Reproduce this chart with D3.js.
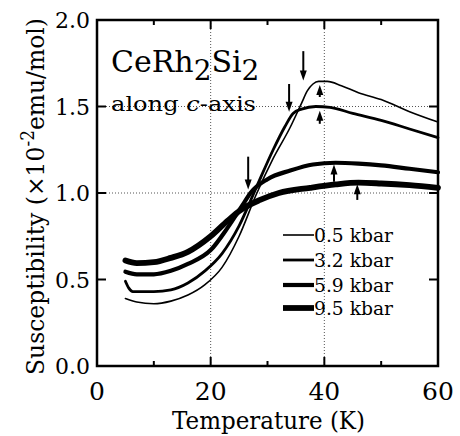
<!DOCTYPE html>
<html>
<head>
<meta charset="utf-8">
<script src="https://cdn.jsdelivr.net/npm/d3@7"></script>
<style>
  body { margin: 0; background: #fff; }
</style>
</head>
<body>
<script>
// pressures (legend)
const pressures = ["0.5 kbar", "3.2 kbar", "5.9 kbar", "9.5 kbar"];

// temperature (K) / susceptibility (1e-2 emu/mol)
const T05 = [5, 7, 10, 13, 16, 19, 22, 25, 28, 31, 34, 36, 37, 38, 39, 40.5, 43, 46, 50, 55, 60];
const X05 = [0.39, 0.37, 0.36, 0.375, 0.41, 0.47, 0.57, 0.75, 0.99, 1.2, 1.38, 1.52, 1.59, 1.63, 1.645, 1.645, 1.62, 1.58, 1.54, 1.47, 1.41];

const T32 = [5, 5.6, 6.3, 10, 13, 16, 19, 22, 25, 28, 31, 33, 34.5, 36, 38.5, 41, 45, 50, 55, 60];
const X32 = [0.49, 0.45, 0.43, 0.43, 0.44, 0.48, 0.55, 0.65, 0.81, 1.03, 1.25, 1.38, 1.46, 1.485, 1.5, 1.495, 1.46, 1.42, 1.37, 1.32];

const T59 = [5, 7, 10, 13, 16, 20, 23, 26, 27, 30, 34, 38, 42, 46, 50, 55, 60];
const X59 = [0.545, 0.53, 0.53, 0.55, 0.59, 0.67, 0.8, 0.95, 1.0, 1.08, 1.13, 1.165, 1.175, 1.17, 1.16, 1.14, 1.12];

const T95 = [5, 7, 10, 13, 16, 20, 23, 25.2, 28.7, 32, 37.5, 42, 46, 50, 55, 60];
const X95 = [0.61, 0.595, 0.6, 0.625, 0.66, 0.75, 0.84, 0.9, 0.96, 1.0, 1.03, 1.05, 1.06, 1.055, 1.045, 1.03];

// down arrows (transition) and up arrows (maximum): [T, chi from, chi to]
const downArrows = [[36.3, 1.82, 1.65], [33.8, 1.63, 1.47], [26.6, 1.21, 1.02]];
const upArrows = [[39.2, 1.555, 1.625], [39.2, 1.40, 1.475], [41.7, 1.065, 1.165], [45.8, 0.96, 1.05]];

const xTicks = [0, 20, 40, 60];
const xMinor = [10, 30, 50];
const yTicks = [0, 0.5, 1.0, 1.5, 2.0];

const series = [
  { T: T05, X: X05, w: 1.6 },
  { T: T32, X: X32, w: 2.8 },
  { T: T59, X: X59, w: 4.2 },
  { T: T95, X: X95, w: 5.8 }
];

const W = 460, H = 436;
const svg = d3.select("body").append("svg").attr("width", W).attr("height", H)
  .attr("font-family", "'DejaVu Serif', serif");

const x = d3.scaleLinear().domain([0, 60]).range([97, 438]);
const y = d3.scaleLinear().domain([0, 2]).range([366, 20]);

// dotted grid
svg.append("g").selectAll("line.gv").data([20, 40]).enter().append("line")
  .attr("x1", d => x(d)).attr("x2", d => x(d)).attr("y1", y(2)).attr("y2", y(0))
  .attr("stroke", "#555").attr("stroke-width", 1).attr("stroke-dasharray", "1,2");
svg.append("g").selectAll("line.gh").data([1.0, 1.5]).enter().append("line")
  .attr("x1", x(0)).attr("x2", x(60)).attr("y1", d => y(d)).attr("y2", d => y(d))
  .attr("stroke", "#555").attr("stroke-width", 1).attr("stroke-dasharray", "1,2");

// curves
const line = d3.line().x(d => x(d[0])).y(d => y(d[1])).curve(d3.curveMonotoneX);
series.forEach(s => {
  svg.append("path")
    .attr("d", line(d3.zip(s.T, s.X)))
    .attr("fill", "none").attr("stroke", "#000")
    .attr("stroke-width", s.w).attr("stroke-linejoin", "round").attr("stroke-linecap", "round");
});

// arrows
function arrow(t, a, b) {
  const x0 = x(t), y0 = y(a), y1 = y(b);
  const dir = y1 > y0 ? 1 : -1;
  svg.append("line").attr("x1", x0).attr("x2", x0).attr("y1", y0).attr("y2", y1 - dir * 8)
    .attr("stroke", "#000").attr("stroke-width", 2);
  svg.append("path")
    .attr("d", `M${x0 - 3.5},${y1 - dir * 10} L${x0 + 3.5},${y1 - dir * 10} L${x0},${y1} Z`)
    .attr("fill", "#000");
}
downArrows.forEach(d => arrow(d[0], d[1], d[2]));
upArrows.forEach(d => arrow(d[0], d[1], d[2]));

// frame
svg.append("rect").attr("x", x(0)).attr("y", y(2)).attr("width", x(60) - x(0)).attr("height", y(0) - y(2))
  .attr("fill", "none").attr("stroke", "#000").attr("stroke-width", 2.5);

// ticks (inward)
const tk = svg.append("g").attr("stroke", "#000").attr("stroke-width", 2);
xTicks.forEach(t => {
  tk.append("line").attr("x1", x(t)).attr("x2", x(t)).attr("y1", y(0)).attr("y2", y(0) - 9);
  tk.append("line").attr("x1", x(t)).attr("x2", x(t)).attr("y1", y(2)).attr("y2", y(2) + 9);
});
xMinor.forEach(t => {
  tk.append("line").attr("x1", x(t)).attr("x2", x(t)).attr("y1", y(0)).attr("y2", y(0) - 5);
  tk.append("line").attr("x1", x(t)).attr("x2", x(t)).attr("y1", y(2)).attr("y2", y(2) + 5);
});
yTicks.forEach(v => {
  tk.append("line").attr("x1", x(0)).attr("x2", x(0) + 9).attr("y1", y(v)).attr("y2", y(v));
  tk.append("line").attr("x1", x(60)).attr("x2", x(60) - 9).attr("y1", y(v)).attr("y2", y(v));
});

// tick labels
svg.append("g").selectAll("text").data(xTicks).enter().append("text")
  .attr("x", d => x(d)).attr("y", 400).attr("text-anchor", "middle")
  .attr("font-size", 25).text(d => d);
svg.append("g").selectAll("text").data(yTicks).enter().append("text")
  .attr("x", 90).attr("y", d => y(d) + 8).attr("text-anchor", "end")
  .attr("font-size", 22).text(d => d.toFixed(1));

// axis titles
svg.append("text").attr("x", 172).attr("y", 429).attr("font-size", 24)
  .attr("textLength", 193).attr("lengthAdjust", "spacingAndGlyphs")
  .text("Temperature (K)");

const yl = svg.append("text").attr("transform", "translate(44,375) rotate(-90)")
  .attr("font-size", 25).attr("textLength", 357).attr("lengthAdjust", "spacingAndGlyphs");
yl.append("tspan").text("Susceptibility (\u00d710");
yl.append("tspan").attr("dy", -10).attr("font-size", 18).text("-2");
yl.append("tspan").attr("dy", 10).text("emu/mol)");

// compound label
const tt = svg.append("text").attr("x", 111).attr("y", 72).attr("font-size", 30);
tt.append("tspan").text("CeRh");
tt.append("tspan").attr("dy", 8).attr("font-size", 28).text("2");
tt.append("tspan").attr("dy", -8).text("Si");
tt.append("tspan").attr("dy", 8).attr("font-size", 28).text("2");

const st = svg.append("text").attr("x", 111).attr("y", 111).attr("font-size", 21)
  .attr("textLength", 145).attr("lengthAdjust", "spacingAndGlyphs");
st.append("tspan").text("along ");
st.append("tspan").attr("font-style", "italic").text("c");
st.append("tspan").text("-axis");

// legend
const lg = svg.append("g");
const lgY = [235, 260, 285, 308];
pressures.forEach((p, i) => {
  lg.append("line").attr("x1", 283).attr("x2", 314).attr("y1", lgY[i]).attr("y2", lgY[i])
    .attr("stroke", "#000").attr("stroke-width", series[i].w);
  lg.append("text").attr("x", 314).attr("y", lgY[i] + 7).attr("font-size", 18)
    .attr("textLength", 79).attr("lengthAdjust", "spacingAndGlyphs").text(p);
});
</script>
</body>
</html>
